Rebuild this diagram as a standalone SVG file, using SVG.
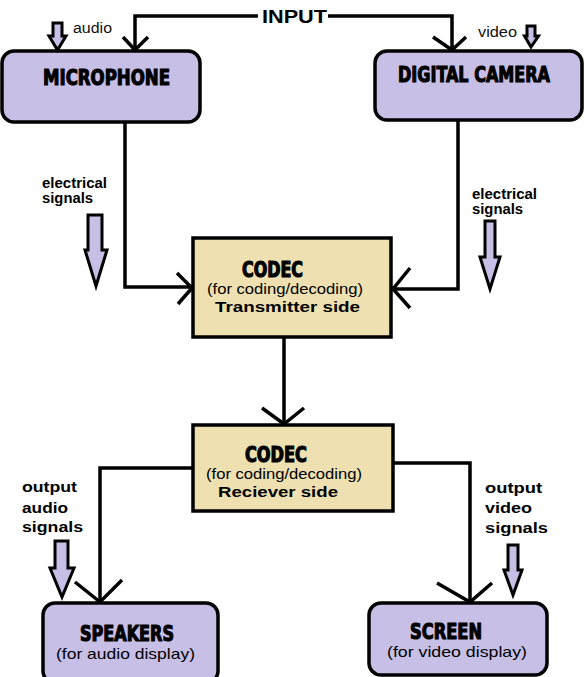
<svg xmlns="http://www.w3.org/2000/svg" width="584" height="677" viewBox="0 0 584 677">
<style>
.dev{fill:#c7bfe5;stroke:#000;stroke-width:3.5}
.codec{fill:#eee0b0;stroke:#000;stroke-width:3.5}
.ttl{font-family:"DejaVu Sans Condensed","DejaVu Sans",sans-serif;font-weight:bold;fill:#000;stroke:#000;stroke-width:1.1}
.sub{font-family:"Liberation Sans",Arial,sans-serif;font-size:14.5px;fill:#000}
.bld{font-family:"Liberation Sans",Arial,sans-serif;font-size:14.5px;font-weight:bold;fill:#000}
.lbl{font-family:"Liberation Sans",Arial,sans-serif;font-size:14px;fill:#111}
.lblb{font-family:"Liberation Sans",Arial,sans-serif;font-size:14px;font-weight:bold;fill:#000}
.ln{fill:none;stroke:#000;stroke-width:3.5;stroke-linejoin:miter}
.ah{fill:none;stroke:#000;stroke-width:3.5}
.blk{fill:#c7bfe5;stroke:#000;stroke-width:3;stroke-linejoin:miter}
</style>
<rect width="584" height="677" fill="#fff"/>

<g id="connectors">
  <path class="ln" d="M258,16 H135 V50"/>
  <path class="ah" d="M123,37 L135,50 L148,37"/>
  <path class="ln" d="M328,16 H452 V50"/>
  <path class="ah" d="M433,37 L452,50 L466,37"/>
  <path class="ln" d="M125,122 V287 H192"/>
  <path class="ah" d="M177,273 L192,288 L178,304"/>
  <path class="ln" d="M458,120 V289 H393"/>
  <path class="ah" d="M410,268 L393,289 L410,308"/>
  <path class="ln" d="M284,338 V424"/>
  <path class="ah" d="M262,408 L284,424 L304,408"/>
  <path class="ln" d="M193,468 H100 V602"/>
  <path class="ah" d="M75,582 L100,602 L122,580"/>
  <path class="ln" d="M393,463 H470 V602"/>
  <path class="ah" d="M437,583 L470,602 L492,583"/>
</g>

<g id="input-label">
  <text x="262" y="23" font-family="Liberation Sans, Arial, sans-serif" font-size="18" font-weight="bold" textLength="65" lengthAdjust="spacingAndGlyphs">INPUT</text>
</g>

<g id="microphone">
  <rect class="dev" x="2" y="51" width="198" height="71" rx="12"/>
  <text class="ttl" x="43" y="85" font-size="21.5" textLength="127" lengthAdjust="spacingAndGlyphs">MICROPHONE</text>
</g>

<g id="audio-input">
  <path class="blk" d="M53,23 H62 V36 H66 L57.5,50 L49,36 H53 Z"/>
  <text class="lbl" x="73" y="33" textLength="39" lengthAdjust="spacingAndGlyphs">audio</text>
</g>

<g id="digital-camera">
  <rect class="dev" x="375" y="51" width="207" height="69" rx="12"/>
  <text class="ttl" x="398" y="82" font-size="21.5" textLength="152" lengthAdjust="spacingAndGlyphs">DIGITAL CAMERA</text>
</g>

<g id="video-input">
  <path class="blk" d="M527,26 H535 V36 H538.5 L531,47 L524.5,36 H527 Z"/>
  <text class="lbl" x="478" y="37" textLength="39" lengthAdjust="spacingAndGlyphs">video</text>
</g>

<g id="electrical-left">
  <text class="lblb" x="42" y="188" textLength="65" lengthAdjust="spacingAndGlyphs">electrical</text>
  <text class="lblb" x="42" y="203" textLength="51" lengthAdjust="spacingAndGlyphs">signals</text>
  <path class="blk" d="M88,215 H102 V250 H107 L96,286 L85,250 H88 Z"/>
</g>

<g id="electrical-right">
  <text class="lblb" x="472" y="199" textLength="65" lengthAdjust="spacingAndGlyphs">electrical</text>
  <text class="lblb" x="472" y="214" textLength="51" lengthAdjust="spacingAndGlyphs">signals</text>
  <path class="blk" d="M485,221 H495 V257 H500 L490,289 L480,257 H485 Z"/>
</g>

<g id="codec-transmitter">
  <rect class="codec" x="193" y="238" width="198" height="99"/>
  <text class="ttl" x="242" y="277" font-size="20.5" textLength="61" lengthAdjust="spacingAndGlyphs">CODEC</text>
  <text class="sub" x="207" y="294" textLength="156" lengthAdjust="spacingAndGlyphs">(for coding/decoding)</text>
  <text class="bld" x="215" y="312" textLength="145" lengthAdjust="spacingAndGlyphs">Transmitter side</text>
</g>

<g id="codec-receiver">
  <rect class="codec" x="193" y="425" width="200" height="86"/>
  <text class="ttl" x="245" y="462" font-size="20.5" textLength="62" lengthAdjust="spacingAndGlyphs">CODEC</text>
  <text class="sub" x="206" y="479" textLength="156" lengthAdjust="spacingAndGlyphs">(for coding/decoding)</text>
  <text class="bld" x="218" y="497" textLength="120" lengthAdjust="spacingAndGlyphs">Reciever side</text>
</g>

<g id="output-audio">
  <text class="lblb" x="22" y="492" textLength="55" lengthAdjust="spacingAndGlyphs">output</text>
  <text class="lblb" x="22" y="513" textLength="46" lengthAdjust="spacingAndGlyphs">audio</text>
  <text class="lblb" x="22" y="532" textLength="61" lengthAdjust="spacingAndGlyphs">signals</text>
  <path class="blk" d="M55,541 H68 V568 H74 L62,597 L50,568 H55 Z"/>
</g>

<g id="output-video">
  <text class="lblb" x="485" y="493" textLength="57" lengthAdjust="spacingAndGlyphs">output</text>
  <text class="lblb" x="485" y="513" textLength="47" lengthAdjust="spacingAndGlyphs">video</text>
  <text class="lblb" x="485" y="533" textLength="63" lengthAdjust="spacingAndGlyphs">signals</text>
  <path class="blk" d="M508,545 H518 V570 H522 L513,595 L504,570 H508 Z"/>
</g>

<g id="speakers">
  <rect class="dev" x="43" y="603" width="175" height="80" rx="12"/>
  <text class="ttl" x="80" y="641" font-size="21.5" textLength="94" lengthAdjust="spacingAndGlyphs">SPEAKERS</text>
  <text class="sub" x="56" y="659" textLength="139" lengthAdjust="spacingAndGlyphs">(for audio display)</text>
</g>

<g id="screen">
  <rect class="dev" x="369" y="603" width="178" height="72" rx="12"/>
  <text class="ttl" x="410" y="639" font-size="21.5" textLength="72" lengthAdjust="spacingAndGlyphs">SCREEN</text>
  <text class="sub" x="387" y="657" textLength="140" lengthAdjust="spacingAndGlyphs">(for video display)</text>
</g>
</svg>
